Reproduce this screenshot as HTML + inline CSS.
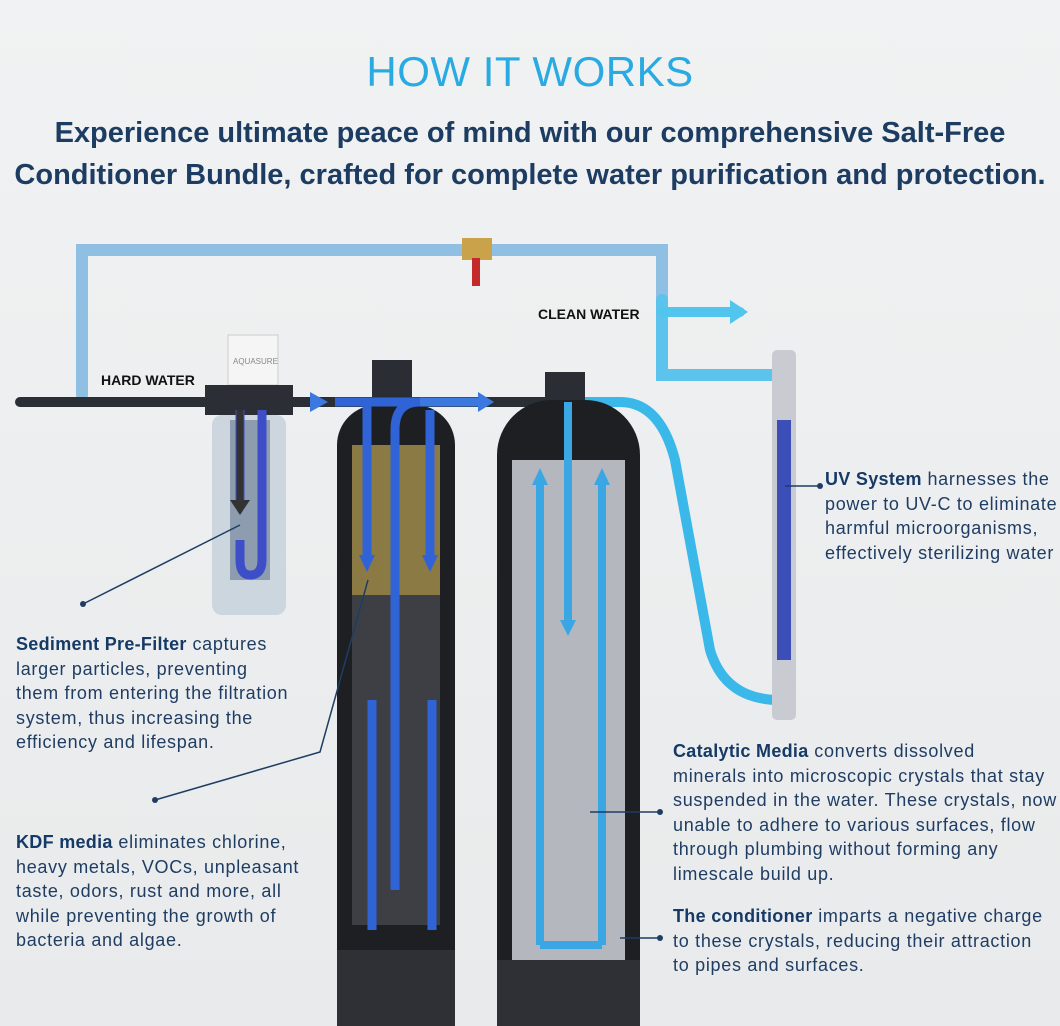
<!DOCTYPE html>
<html><head><meta charset="utf-8"><style>
body{margin:0;width:1060px;height:1026px;overflow:hidden;background:#eceeef;font-family:"Liberation Sans",sans-serif;position:relative}
.t{position:absolute;white-space:nowrap}
.p{position:absolute;color:#1f3d63;font-size:18px;letter-spacing:0.7px;line-height:24.5px;white-space:nowrap}
.p b{color:#163a66;letter-spacing:0.3px}
</style></head><body>
<div style="position:absolute;left:0;top:0;width:1060px;height:1026px;background:linear-gradient(#f1f2f3,#e8eaeb)"></div>
<div class="t" style="left:0;width:1060px;text-align:center;top:48px;font-size:42px;color:#2aaae2;letter-spacing:0.5px">HOW IT WORKS</div>
<div class="t" style="left:0;width:1060px;text-align:center;top:112px;font-size:29px;font-weight:bold;color:#1d3c62;line-height:42px">Experience ultimate peace of mind with our comprehensive Salt-Free<br>Conditioner Bundle, crafted for complete water purification and protection.</div>
<svg width="1060" height="1026" style="position:absolute;left:0;top:0">
<g fill="none" stroke-linecap="round">
<path d="M82 395 V250 H662 V300" stroke="#8fbfe3" stroke-width="12"/>
<path d="M662 300 V375 H780" stroke="#5cc3ec" stroke-width="12"/>
<path d="M20 402 H560" stroke="#2a2f36" stroke-width="10"/>
<path d="M580 402 H620 Q660 402 675 460 L710 650 Q725 700 780 700 V670" stroke="#3bb8ea" stroke-width="10"/>
<path d="M662 312 H740" stroke="#52c5ee" stroke-width="10"/>
</g>
<polygon points="730,300 748,312 730,324" fill="#52c5ee"/>
<rect x="462" y="238" width="30" height="22" fill="#c9a24a"/>
<rect x="472" y="258" width="8" height="28" fill="#c52a2a"/>
<rect x="228" y="335" width="50" height="50" fill="#f5f5f5" stroke="#ccc"/>
<text x="233" y="364" font-size="8" fill="#888" font-family="Liberation Sans">AQUASURE</text>
<rect x="205" y="385" width="88" height="30" fill="#2b2f35"/>
<rect x="212" y="415" width="74" height="200" rx="10" fill="#c9d3dc" opacity="0.9"/>
<rect x="230" y="420" width="40" height="160" fill="#8e9cb0"/>
<path d="M240 410 V500 M262 410 V560 Q262 575 250 575 Q240 575 240 560 V540" stroke="#3d4ec8" stroke-width="9" fill="none"/>
<path d="M240 410 V505" stroke="#333" stroke-width="7"/>
<polygon points="230,500 250,500 240,515" fill="#333"/>
<rect x="372" y="360" width="40" height="45" fill="#2a2d33"/>
<rect x="337" y="405" width="118" height="621" rx="40" fill="#1d1f23"/>
<rect x="352" y="445" width="88" height="150" fill="#8c7a45"/>
<rect x="352" y="595" width="88" height="330" fill="#3d3f44"/>
<rect x="337" y="950" width="118" height="76" fill="#2e3035"/>
<path d="M335 402 H420 Q395 402 395 430 V890 M367 402 V560 M430 410 V560 M372 930 V700 M432 930 V700" stroke="#2f63d6" stroke-width="9" fill="none"/>
<path d="M420 402 H480" stroke="#3b79e0" stroke-width="9"/>
<polygon points="359,555 375,555 367,572" fill="#2f63d6"/><polygon points="422,555 438,555 430,572" fill="#2f63d6"/>
<polygon points="310,392 328,402 310,412" fill="#3b79e0"/><polygon points="478,392 494,402 478,412" fill="#3b79e0"/>
<rect x="545" y="372" width="40" height="30" fill="#2a2d33"/>
<rect x="497" y="400" width="143" height="626" rx="55" fill="#1d1f23"/>
<rect x="512" y="460" width="113" height="500" fill="#b4b8be"/>
<rect x="497" y="960" width="143" height="66" fill="#2e3035"/>
<path d="M568 402 V620 M540 945 V480 M602 945 V480 M540 945 H602" stroke="#3aa7e4" stroke-width="8" fill="none"/>
<polygon points="532,485 548,485 540,468" fill="#3aa7e4"/><polygon points="594,485 610,485 602,468" fill="#3aa7e4"/>
<polygon points="560,620 576,620 568,636" fill="#3aa7e4"/>
<rect x="772" y="350" width="24" height="370" rx="5" fill="#c8ccd2"/>
<rect x="777" y="420" width="14" height="240" fill="#3c4fb8"/>
<g stroke="#1f3d63" stroke-width="1.5" fill="none">
<path d="M83 604 L240 525"/><path d="M155 800 L320 752 L368 580"/>
<path d="M660 812 L590 812"/><path d="M660 938 L620 938"/><path d="M820 486 L785 486"/>
</g>
<g fill="#1f3d63"><circle cx="83" cy="604" r="3"/><circle cx="155" cy="800" r="3"/><circle cx="660" cy="812" r="3"/><circle cx="660" cy="938" r="3"/><circle cx="820" cy="486" r="3"/></g>
</svg>
<div class="t" style="left:101px;top:372px;font-size:14px;font-weight:bold;color:#111">HARD WATER</div>
<div class="t" style="left:538px;top:306px;font-size:14px;font-weight:bold;color:#111">CLEAN WATER</div>
<div class="p" style="left:16px;top:632px"><b>Sediment Pre-Filter</b> captures<br>larger particles, preventing<br>them from entering the filtration<br>system, thus increasing the<br>efficiency and lifespan.</div>
<div class="p" style="left:16px;top:830px"><b>KDF media</b> eliminates chlorine,<br>heavy metals, VOCs, unpleasant<br>taste, odors, rust and more, all<br>while preventing the growth of<br>bacteria and algae.</div>
<div class="p" style="left:673px;top:739px"><b>Catalytic Media</b> converts dissolved<br>minerals into microscopic crystals that stay<br>suspended in the water. These crystals, now<br>unable to adhere to various surfaces, flow<br>through plumbing without forming any<br>limescale build up.</div>
<div class="p" style="left:673px;top:904px"><b>The conditioner</b> imparts a negative charge<br>to these crystals, reducing their attraction<br>to pipes and surfaces.</div>
<div class="p" style="left:825px;top:467px"><b>UV System</b> harnesses the<br>power to UV-C to eliminate<br>harmful microorganisms,<br>effectively sterilizing water</div>
</body></html>
